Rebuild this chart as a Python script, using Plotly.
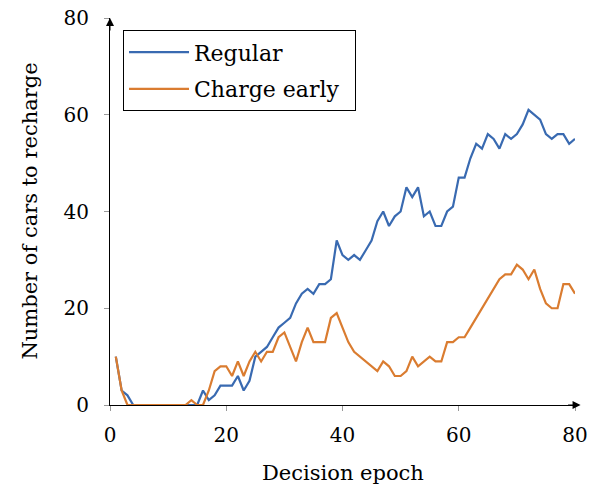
import plotly.graph_objects as go

epochs = list(range(1, 81))
regular = [10, 3, 2, 0, 0, 0, 0, 0, 0, 0, 0, 0, 0, 0, 0, 3, 1, 2, 4, 4,
           4, 6, 3, 5, 10, 11, 12, 14, 16, 17, 18, 21, 23, 24, 23, 25, 25, 26, 34, 31,
           30, 31, 30, 32, 34, 38, 40, 37, 39, 40, 45, 43, 45, 39, 40, 37, 37, 40, 41, 47,
           47, 51, 54, 53, 56, 55, 53, 56, 55, 56, 58, 61, 60, 59, 56, 55, 56, 56, 54, 55]
charge_early = [10, 3, 0, 0, 0, 0, 0, 0, 0, 0, 0, 0, 0, 1, 0, 0, 3, 7, 8, 8,
                6, 9, 6, 9, 11, 9, 11, 11, 14, 15, 12, 9, 13, 16, 13, 13, 13, 18, 19, 16,
                13, 11, 10, 9, 8, 7, 9, 8, 6, 6, 7, 10, 8, 9, 10, 9, 9, 13, 13, 14,
                14, 16, 18, 20, 22, 24, 26, 27, 27, 29, 28, 26, 28, 24, 21, 20, 20, 25, 25, 23]
tick_vals = [0, 20, 40, 60, 80]
tick_text = ["0", "20", "40", "60", "80"]
x_title = "Decision epoch"
y_title = "Number of cars to recharge"

FONT = "DejaVu Serif"
fig = go.Figure()
fig.add_trace(go.Scatter(x=epochs, y=regular, mode="lines", name="Regular",
                         legendgroup="a",
                         line=dict(color="#396AB1", width=2.2)))
fig.add_trace(go.Scatter(x=epochs, y=charge_early, mode="lines", name="Charge early\u2002",
                         legendgroup="b",
                         line=dict(color="#DA7C30", width=2.2)))

axis_common = dict(range=[0, 80], tickvals=tick_vals, ticktext=tick_text,
                   showgrid=False, zeroline=False, ticks="outside", ticklen=5,
                   tickcolor="#999999", tickwidth=1, automargin=False,
                   ticklabeloverflow="allow",
                   tickfont=dict(family=FONT, size=20, color="black"),
                   showline=True, linecolor="black", linewidth=1)

fig.update_layout(
    width=596, height=485,
    margin=dict(l=110, r=21, t=18, b=80),
    plot_bgcolor="white", paper_bgcolor="white",
    font=dict(family=FONT, size=20, color="black"),
    xaxis=dict(**axis_common, ticklabelstandoff=7),
    yaxis=dict(**axis_common, ticklabelstandoff=11),
    xaxis2=dict(range=[0, 80], overlaying="x", anchor="y", side="bottom", tickvals=tick_vals,
                ticks="inside", ticklen=4, tickcolor="#999999", showticklabels=False,
                showgrid=False, zeroline=False, showline=False, automargin=False),
    yaxis2=dict(range=[0, 80], overlaying="y", anchor="x", side="left", tickvals=tick_vals,
                ticks="inside", ticklen=4, tickcolor="#999999", showticklabels=False,
                showgrid=False, zeroline=False, showline=False, automargin=False),
    legend=dict(x=0.028, y=0.968, xanchor="left", yanchor="top",
                bordercolor="black", borderwidth=1, bgcolor="white",
                itemwidth=60,
                font=dict(family=FONT, size=22), tracegroupgap=5),
    showlegend=True,
)

# axis titles
fig.add_annotation(text=x_title, x=0.5, y=-0.176, xref="paper", yref="paper",
                   xanchor="center", yanchor="middle", showarrow=False,
                   font=dict(family=FONT, size=21))
fig.add_annotation(text=y_title, x=-0.174, y=0.5, xref="paper", yref="paper",
                   xanchor="center", yanchor="middle", showarrow=False, textangle=-90,
                   font=dict(family=FONT, size=21))

# axis arrowheads
fig.add_annotation(x=1.012, y=0, xref="paper", yref="paper", ax=-14, ay=0,
                   showarrow=True, arrowhead=2, arrowsize=1.6, arrowwidth=1, arrowcolor="black", text="")
fig.add_annotation(x=0, y=1.0, xref="paper", yref="paper", ax=0, ay=14,
                   showarrow=True, arrowhead=2, arrowsize=1.6, arrowwidth=1, arrowcolor="black", text="")

# remove the default page margin so the figure sits at the window's top-left corner
fig.write_html("out.html", config={"displayModeBar": False},
               post_script="document.body.style.margin='0';")
